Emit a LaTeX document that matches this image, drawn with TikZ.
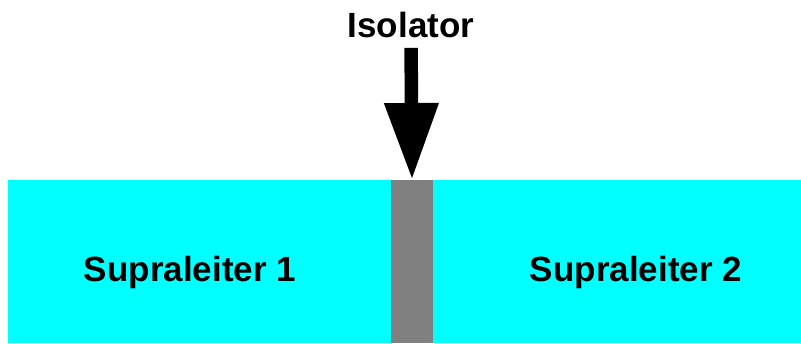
\documentclass[tikz,border=0pt]{standalone}
\usepackage{fontspec}
\setmainfont{Liberation Sans}
\usetikzlibrary{arrows.meta,positioning,calc}
\definecolor{supracyan}{RGB}{0,255,255}
\definecolor{isogray}{RGB}{128,128,128}
\tikzset{
	block/.style={draw=none, inner sep=0pt, outer sep=0pt, minimum height=163pt},
	bigtext/.style={font=\fontsize{35}{42}\selectfont\bfseries, inner sep=0pt, anchor=base},
	bigarrow/.style={-{Triangle[length=77pt, width=51pt]}, line width=13.5pt}
}
\begin{document}
\begin{tikzpicture}[x=1pt, y=1pt, node distance=0pt]
	\useasboundingbox (0,0) rectangle (801,343);
	
	%% -- the junction
	\node[block, fill=supracyan, minimum width=382.7pt, anchor=south west] (sc1) at (8,0) {};
	\node[block, fill=isogray, minimum width=42.6pt, right=of sc1] (ins) {};
	\node[block, fill=supracyan, minimum width=367.7pt, right=of ins] (sc2) {};
	
	%% -- labels
	\node[bigtext] (sclabel1) at (190,61.3) {Supraleiter 1};
	\node[bigtext] (sclabel2) at (636,61.3) {Supraleiter 2};
	\node[bigtext] (isolabel) at ($(ins.north)+(-1,142.7)$) {Isolator};
	
	%% -- pointer
	\draw[bigarrow, shorten <=10pt] (isolabel.south) -- (ins.north);
\end{tikzpicture}
\end{document}
